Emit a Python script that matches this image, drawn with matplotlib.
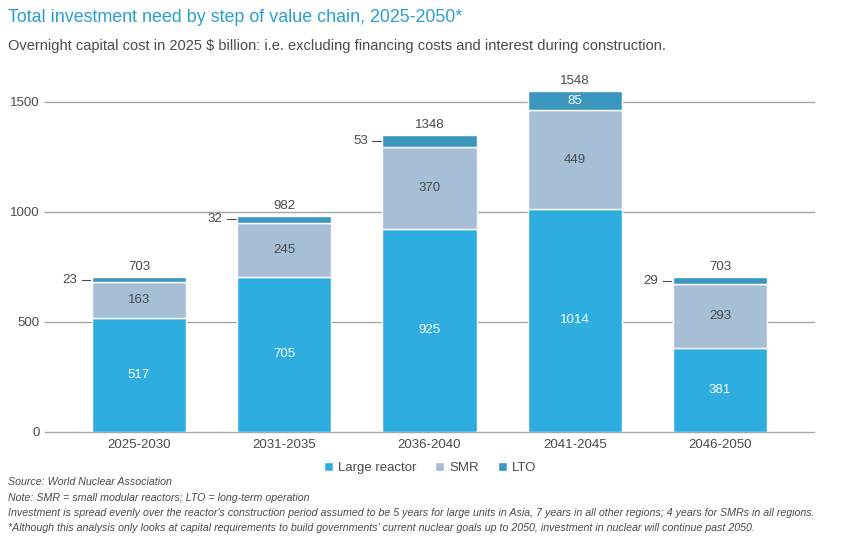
import matplotlib.pyplot as plt
import numpy as np

# data
periods = ['2025-2030', '2031-2035', '2036-2040', '2041-2045', '2046-2050']
large_reactor = [517, 705, 925, 1014, 381]
smr = [163, 245, 370, 449, 293]
lto = [23, 32, 53, 85, 29]
totals = [703, 982, 1348, 1548, 703]
yticks = [0, 500, 1000, 1500]

c_large = '#2eaee0'
c_smr = '#a7bfd6'
c_lto = '#3c97bf'
c_text = '#4a4a4a'
c_grid = '#a6a6a6'

plt.rcParams['font.family'] = ['Liberation Sans', 'DejaVu Sans']

fig = plt.figure(figsize=(8.57, 5.59), dpi=100)
W, H = 857, 559
ax = fig.add_axes([45 / W, (559 - 432) / H, (814 - 45) / W, (432 - 80) / H])

x = np.arange(len(periods))
width = 0.65
base2 = np.array(large_reactor)
base3 = base2 + np.array(smr)

ax.bar(x, large_reactor, width, color=c_large, edgecolor='white', linewidth=1, zorder=3, label='Large reactor')
ax.bar(x, smr, width, bottom=base2, color=c_smr, edgecolor='white', linewidth=1, zorder=3, label='SMR')
ax.bar(x, lto, width, bottom=base3, color=c_lto, edgecolor='white', linewidth=1, zorder=3, label='LTO')

ax.set_xlim(-0.647, 4.647)
ax.set_ylim(0, 1600)
ax.set_yticks(yticks)
ax.set_yticklabels([str(v) for v in yticks])
ax.set_xticks(x)
ax.set_xticklabels(periods)
ax.tick_params(axis='both', length=0, labelsize=9.5, colors=c_text)
ax.tick_params(axis='y', pad=4)
ax.tick_params(axis='x', pad=5)
for s in ax.spines.values():
    s.set_visible(False)
for v in yticks:
    ax.axhline(v, color=c_grid, linewidth=1, zorder=1, clip_on=False)

for i in range(len(periods)):
    ax.text(x[i], large_reactor[i] / 2, str(large_reactor[i]), ha='center', va='center',
            color='white', fontsize=9.5, zorder=4)
    ax.text(x[i], base2[i] + smr[i] / 2, str(smr[i]), ha='center', va='center',
            color=c_text, fontsize=9.5, zorder=4)
    ax.text(x[i], totals[i] + 18, str(totals[i]), ha='center', va='bottom',
            color=c_text, fontsize=9.5, zorder=4)
    mid = base3[i] + lto[i] / 2
    if lto[i] > 60:
        ax.text(x[i], mid, str(lto[i]), ha='center', va='center',
                color='white', fontsize=9.5, zorder=4)
    else:
        left = x[i] - width / 2
        ax.plot([left - 0.07, left - 0.01], [mid, mid], color=c_text, linewidth=0.8, clip_on=False)
        ax.text(left - 0.1, mid, str(lto[i]), ha='right', va='center',
                color=c_text, fontsize=9.5)

fig.text(8 / W, 1 - 18 / H, 'Total investment need by step of value chain, 2025-2050*',
         fontsize=12.9, color='#2b9fd3', va='center')
fig.text(8 / W, 1 - 46 / H,
         'Overnight capital cost in 2025 $ billion: i.e. excluding financing costs and interest during construction.',
         fontsize=10.55, color=c_text, va='center')

leg = fig.legend(loc='center', bbox_to_anchor=(430 / W, 1 - 468 / H), ncol=3, frameon=False,
                 fontsize=9.5, handlelength=0.7, handleheight=0.7, handletextpad=0.4,
                 columnspacing=1.4, labelcolor=c_text)

notes = [
    'Source: World Nuclear Association',
    'Note: SMR = small modular reactors; LTO = long-term operation',
    "Investment is spread evenly over the reactor's construction period assumed to be 5 years for large units in Asia, 7 years in all other regions; 4 years for SMRs in all regions.",
    "*Although this analysis only looks at capital requirements to build governments' current nuclear goals up to 2050, investment in nuclear will continue past 2050.",
]
ys = [482, 498, 513, 528]
for t, yy in zip(notes, ys):
    fig.text(8 / W, 1 - yy / H, t, fontsize=7.65, style='italic', color=c_text, va='center',
             family=['Liberation Sans Narrow', 'Liberation Sans', 'DejaVu Sans'])

fig.savefig('out.png', dpi=100)
